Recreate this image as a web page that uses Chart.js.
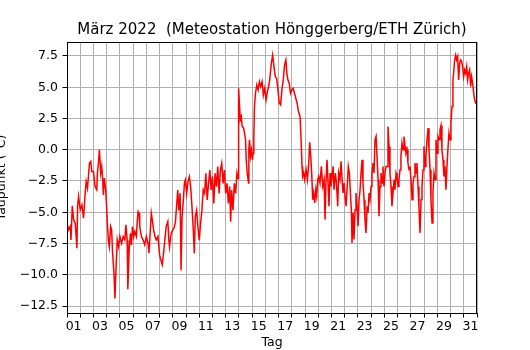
<!DOCTYPE html>
<html>
<head>
<meta charset="utf-8">
<script src="https://cdn.jsdelivr.net/npm/chart.js@4"></script>
<style>
  html, body { margin: 0; padding: 0; background: #fff; }
  #c { display: block; }
</style>
</head>
<body>
<canvas id="c" width="530" height="350" style="width:530px;height:350px"></canvas>
<script>
// Time in days since 1 March 2022 00:00
const tage = [
  0.000,0.125,0.25,0.30,0.40,0.50,0.625,0.75,0.80,0.875,
  1.0,1.125,1.25,1.375,1.45,1.55,1.70,1.80,1.875,
  2.0,2.125,2.25,2.30,2.375,2.45,2.55,2.625,2.70,2.75,2.825,2.925,
  3.0,3.05,3.125,3.20,3.30,3.375,3.45,3.55,3.625,3.70,3.80,3.90,
  4.0,4.125,4.25,4.375,4.45,4.55,4.60,4.70,4.80,4.875,4.95,
  5.05,5.125,5.25,5.30,5.375,5.45,5.5,5.625,5.75,5.875,
  6.0,6.125,6.20,6.375,6.45,6.55,6.65,6.75,6.875,
  7.0,7.125,7.20,7.30,7.40,7.5,7.625,7.70,7.75,7.875,
  8.0,8.125,8.2,8.3,8.375,8.45,8.55,8.625,8.7,8.8,8.875,8.95,
  9.05,9.15,9.25,9.35,9.45,9.55,9.625,9.7,9.8,9.9,
  10.0,10.1,10.2,10.3,10.4,10.5,10.6,10.7,10.8,10.9,
  11.0,11.1,11.2,11.3,11.4,11.5,11.6,11.7,11.8,11.9,
  12.0,12.1,12.2,12.3,12.375,12.45,12.55,12.65,12.75,12.85,12.93,12.975,
  13.05,13.1,13.175,13.25,13.35,13.425,13.5,13.55,13.625,13.725,13.75,13.8,13.875,13.95,
  14.025,14.075,14.125,14.175,14.25,14.35,14.45,14.55,14.65,14.75,14.85,14.95,
  15.05,15.15,15.25,15.35,15.45,15.55,15.65,15.75,15.85,15.95,
  16.05,16.15,16.25,16.35,16.45,16.55,16.625,16.7,16.8,16.9,
  17.0,17.1,17.2,17.3,17.4,17.5,17.62,17.70,17.77,17.82,17.90,17.97,
  18.08,18.18,18.28,18.35,18.43,18.50,18.58,18.65,18.73,18.81,18.88,18.96,
  19.03,19.13,19.23,19.34,19.44,19.51,19.59,19.66,19.74,19.81,19.89,19.96,
  20.04,20.12,20.19,20.29,20.37,20.47,20.54,20.64,20.72,20.80,20.87,20.95,
  21.02,21.10,21.20,21.27,21.35,21.43,21.50,21.55,21.63,21.70,21.78,21.85,21.93,
  22.01,22.08,22.16,22.23,22.31,22.38,22.46,22.53,22.61,22.69,22.76,22.84,22.91,22.99,
  23.06,23.14,23.21,23.29,23.37,23.44,23.52,23.59,23.67,23.74,23.82,23.89,23.97,
  24.05,24.12,24.20,24.27,24.35,24.42,24.50,24.57,24.65,24.73,24.80,24.88,24.95,
  25.03,25.10,25.18,25.25,25.33,25.41,25.48,25.56,25.63,25.71,25.78,25.86,25.93,
  26.01,26.09,26.16,26.24,26.31,26.39,26.46,26.54,26.61,26.69,26.77,26.84,26.92,26.99,
  27.07,27.14,27.22,27.30,27.37,27.45,27.52,27.60,27.67,27.75,27.83,27.90,27.98,
  28.05,28.13,28.20,28.28,28.35,28.43,28.50,28.58,28.65,28.73,28.80,28.88,28.96,
  29.03,29.11,29.18,29.23,29.31,29.39,29.46,29.54,29.61,29.69,29.76,29.84,29.91,29.99,
  30.07,30.14,30.22,30.29,30.37,30.44,30.52,30.59,30.67,30.75,30.82,30.92,31.0
];

// Dew point (°C)
const taupunkt = [
  -5.88,-6.41,-6.14,-7.21,-4.49,-5.61,-5.88,-7.88,-4.54,-3.74,
  -4.81,-4.41,-5.48,-3.47,-2.54,-3.07,-1.07,-0.93,-1.74,
  -1.74,-2.94,-3.21,-1.87,-1.07,0.0,-1.87,-1.34,-2.40,-3.61,-2.27,-3.21,
  -4.67,-5.88,-7.21,-7.75,-6.14,-6.41,-8.28,-9.88,-11.89,-9.62,-7.21,-7.75,
  -6.94,-7.48,-6.94,-7.21,-6.01,-7.21,-11.16,-8.01,-6.68,-7.61,-6.14,
  -6.94,-6.54,-6.94,-5.88,-4.94,-5.07,-6.14,-6.94,-7.21,-7.61,
  -6.94,-7.48,-8.28,-5.07,-5.61,-6.41,-6.94,-7.21,-6.94,
  -8.41,-8.95,-9.21,-8.28,-7.21,-6.14,-5.74,-7.21,-7.77,-6.70,
  -6.43,-6.16,-5.76,-4.29,-3.22,-4.83,-3.49,-9.64,-5.36,-4.02,-2.69,-2.42,
  -3.49,-2.55,-2.15,-2.95,-4.56,-6.43,-8.30,-5.36,-4.83,-6.16,
  -7.23,-5.90,-4.83,-3.22,-3.49,-1.89,-4.02,-2.69,-1.62,-3.22,
  -2.15,-4.29,-1.89,-2.95,-1.35,-3.49,-1.62,-1.08,-2.69,-1.62,
  -3.49,-2.69,-4.29,-2.95,-5.76,-3.22,-4.83,-2.69,-3.49,-1.89,-2.30,4.92,
  3.46,2.39,2.66,1.86,1.73,1.33,0.80,-0.80,-1.86,-2.66,0.0,0.80,-0.53,0.0,
  -0.80,-0.27,1.06,3.46,4.52,5.19,4.79,5.45,5.05,5.45,4.39,4.92,
  3.99,4.65,5.05,5.85,6.91,7.58,6.65,5.85,5.72,4.79,
  3.72,3.59,4.79,5.59,6.78,7.18,6.12,5.59,5.32,4.52,
  4.79,4.92,4.52,4.12,3.72,3.06,2.66,0.80,-1.33,-2.13,-1.86,-2.39,
  -1.59,-2.39,-1.06,0.60,-0.53,-1.86,-3.99,-3.46,-4.26,-3.19,-3.72,-2.39,
  -2.13,-2.66,-1.33,-2.93,-2.39,-5.59,-2.39,-0.80,-2.66,-4.52,-1.86,-2.93,
  -2.13,-1.33,-3.19,-1.86,-2.66,-4.52,-1.86,-2.39,-0.93,-2.39,-3.46,-2.66,
  -3.72,-4.52,-2.66,-1.33,-1.86,-3.46,-4.79,-7.45,-5.05,-7.18,-4.79,-3.46,-4.52,
  -6.12,-3.99,-3.19,-1.86,-0.80,-2.66,-3.99,-5.59,-6.65,-4.52,-5.05,-3.46,-3.99,-2.93,
  -1.86,-1.06,-1.86,0.80,1.06,-0.53,-2.39,-5.32,-2.93,-1.86,-2.66,-1.33,-2.93,
  -1.86,-1.33,-1.33,1.86,0.27,-1.86,-2.93,-4.52,-3.46,-2.39,-3.19,-1.86,-2.13,
  -2.93,-2.39,-1.59,-0.53,0.53,0.0,1.06,0.27,-0.27,0.0,-1.06,-1.59,-1.33,
  -2.39,-3.99,-2.66,-2.13,-1.06,-1.86,-1.06,-2.93,-4.52,-6.65,-3.99,-2.93,-1.59,0.27,
  -1.33,-0.53,0.80,1.73,0.0,-1.59,-3.99,-5.85,-3.46,-1.86,-2.39,0.80,-0.27,
  1.06,0.80,1.60,1.95,0.0,-0.80,-2.13,-1.33,-3.19,-1.33,0.0,1.33,0.80,
  2.13,3.46,5.59,6.12,7.18,7.58,7.18,7.45,5.59,6.91,7.18,7.05,6.65,5.85,
  6.38,6.12,6.65,5.59,6.12,6.38,5.05,5.85,5.32,4.52,3.99,3.72,3.70
];

// Tick labels (centred on each odd day)
const tagLabels = ['01','03','05','07','09','11','13','15','17','19','21','23','25','27','29','31'];
const yTicks = [-12.5, -10.0, -7.5, -5.0, -2.5, 0.0, 2.5, 5.0, 7.5];

const titleText = 'März 2022  (Meteostation Hönggerberg/ETH Zürich)';
const xTitle = 'Tag';
const yTitle = 'Taupunkt (°C)';

const FONT = "'DejaVu Sans', sans-serif";
const GRID = '#b0b0b0';

const points = tage.map((t, i) => ({ x: t, y: taupunkt[i] }));

const deco = {
  id: 'deco',
  afterDraw(chart) {
    const { ctx, chartArea: a } = chart;
    ctx.save();
    // frame
    ctx.strokeStyle = '#000';
    ctx.lineWidth = 1;
    ctx.strokeRect(Math.round(a.left) + 0.5, Math.round(a.top) + 0.5,
                   Math.round(a.right - a.left) - 1, Math.round(a.bottom - a.top));
    // title
    ctx.fillStyle = '#000';
    ctx.font = '15px ' + FONT;
    ctx.textAlign = 'center';
    ctx.textBaseline = 'alphabetic';
    ctx.fillText(titleText, (a.left + a.right) / 2, 34);
    // x title
    ctx.font = '12.5px ' + FONT;
    ctx.fillText(xTitle, (a.left + a.right) / 2, 346);
    // y title
    ctx.translate(4.5, (a.top + a.bottom) / 2);
    ctx.rotate(-Math.PI / 2);
    ctx.fillText(yTitle, 0, 0);
    ctx.restore();
  }
};

new Chart(document.getElementById('c'), {
  type: 'line',
  data: {
    datasets: [{
      data: points,
      borderColor: '#ff0000',
      borderWidth: 1.5,
      pointRadius: 0,
      tension: 0,
      fill: false
    }]
  },
  options: {
    responsive: false,
    devicePixelRatio: 1,
    animation: false,
    parsing: true,
    layout: { padding: { left: 0, right: 53, top: 42, bottom: 0 } },
    plugins: { legend: { display: false }, tooltip: { enabled: false }, title: { display: false } },
    scales: {
      x: {
        type: 'linear',
        min: 0,
        max: 31,
        afterBuildTicks(scale) {
          const t = [];
          for (let v = 0; v <= 62; v++) t.push({ value: v / 2 });
          scale.ticks = t;
        },
        afterFit(scale) { scale.height = 37; },
        ticks: {
          autoSkip: false,
          maxRotation: 0,
          minRotation: 0,
          padding: 2,
          color: '#000',
          font: { family: FONT, size: 12.5 },
          callback(value) {
            const d = value + 0.5;
            if (Number.isInteger(d) && d % 2 === 1) return tagLabels[(d - 1) / 2];
            return '';
          }
        },
        grid: {
          color: ctx => (ctx.tick && Number.isInteger(ctx.tick.value)) ? GRID : 'rgba(0,0,0,0)',
          tickColor: ctx => (ctx.tick && Number.isInteger(ctx.tick.value)) ? '#000' : 'rgba(0,0,0,0)',
          lineWidth: 1,
          tickLength: 4.5,
          drawTicks: true
        },
        border: { display: true, color: '#000', width: 1 }
      },
      y: {
        type: 'linear',
        min: -13.06,
        max: 8.62,
        afterBuildTicks(scale) {
          scale.ticks = yTicks.map(v => ({ value: v }));
        },
        afterFit(scale) { scale.width = 67; },
        ticks: {
          padding: 4.5,
          color: '#000',
          font: { family: FONT, size: 12.5 },
          callback(value) { return Number(value).toFixed(1).replace('-', '\u2212'); }
        },
        grid: {
          color: GRID,
          tickColor: '#000',
          lineWidth: 1,
          tickLength: 4.5
        },
        border: { display: true, color: '#000', width: 1 }
      }
    }
  },
  plugins: [deco]
});
</script>
</body>
</html>
